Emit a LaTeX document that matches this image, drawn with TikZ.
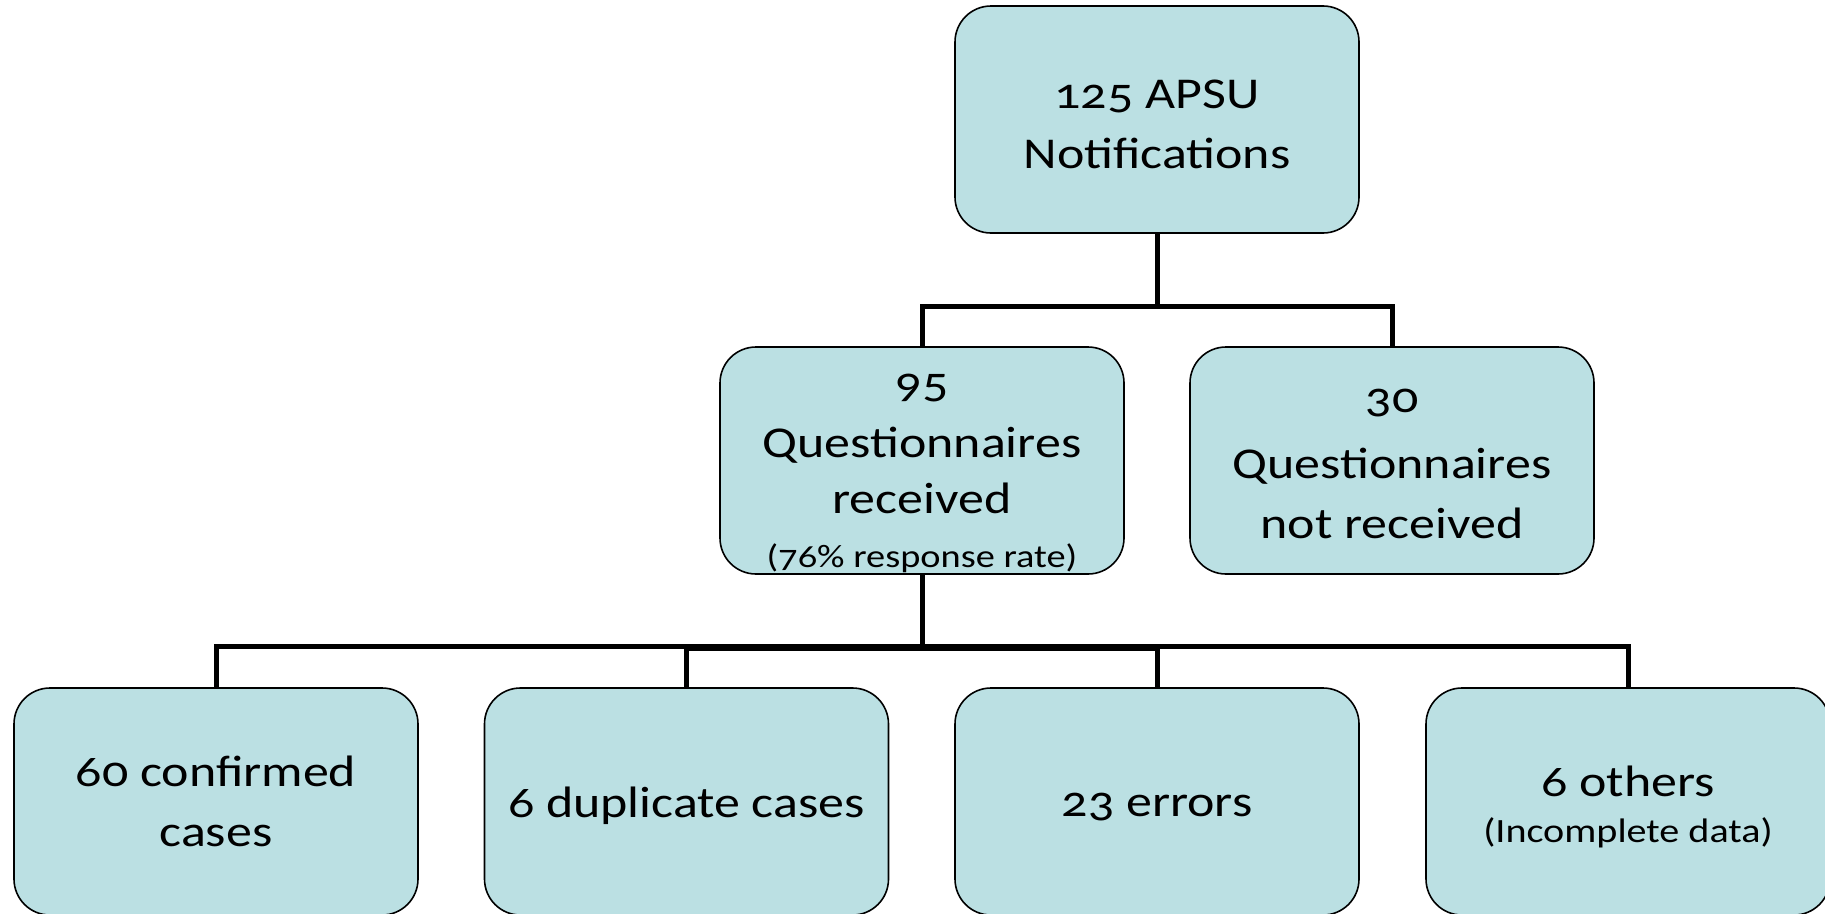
\documentclass[tikz,border=0pt]{standalone}
\usepackage{fontspec}
\setmainfont{Carlito}[Numbers=OldStyle, FakeStretch=1.18]
\definecolor{boxfill}{HTML}{BBE0E3}
\tikzset{
  orgbox/.style={draw=black, line width=1.6pt, fill=boxfill, rectangle,
    rounded corners=36pt, minimum width=404pt, minimum height=227pt,
    inner sep=0pt},
  boxtext/.style={inner sep=0pt, align=center, font=\fontsize{44}{60}\selectfont},
  conn/.style={draw=black, line width=5pt},
}
\newcommand{\smalltxt}{\fontsize{34}{42}\selectfont}
\newcommand{\smallertxt}{\fontsize{32.5}{42}\selectfont}
\begin{document}
\begin{tikzpicture}[x=1pt, y=-1pt]
  \useasboundingbox (0,0) rectangle (1825,913);
  % boxes of the three levels
  \node[orgbox] (top) at (1157,119.5) {};
  \node[orgbox] (ml) at (922,460.5) {};
  \node[orgbox] (mr) at (1392,460.5) {};
  \node[orgbox] (b1) at (216,801.5) {};
  \node[orgbox] (b2) at (686.5,801.5) {};
  \node[orgbox] (b3) at (1157,801.5) {};
  \node[orgbox] (b4) at (1628,801.5) {};
  % box labels
  \node[boxtext, yshift=-5pt] (topT) at (top) {125 APSU\\Notifications};
  \node[boxtext, yshift=-13pt] (mlT) at (ml) {95\\[0pt]Questionnaires\\[-4pt]received\\[-6pt]{\smallertxt (76\% response rate)}};
  \node[boxtext, yshift=-3pt] (mrT) at (mr) {30\\[6pt]Questionnaires\\not received};
  \node[boxtext, yshift=0pt] (b1T) at (b1) {60 confirmed\\cases};
  \node[boxtext, yshift=-4pt] (b2T) at (b2) {6 duplicate cases};
  \node[boxtext, yshift=-6pt] (b3T) at (b3) {23 errors};
  \node[boxtext, yshift=-5pt] (b4T) at (b4) {6 others\\[-14pt]{\smalltxt (Incomplete data)}};
  % connectors
  \draw[conn] (ml.north) -- ++(0,-40) -| (top.south);
  \draw[conn] (mr.north) -- ++(0,-40) -| (top.south);
  \draw[conn] (b1.north) -- ++(0,-41) -| (ml.south);
  \draw[conn] (b2.north) -- ++(0,-39) -| (ml.south);
  \draw[conn] (b3.north) -- ++(0,-39) -| (ml.south);
  \draw[conn] (b4.north) -- ++(0,-41) -| (ml.south);
\end{tikzpicture}
\end{document}
